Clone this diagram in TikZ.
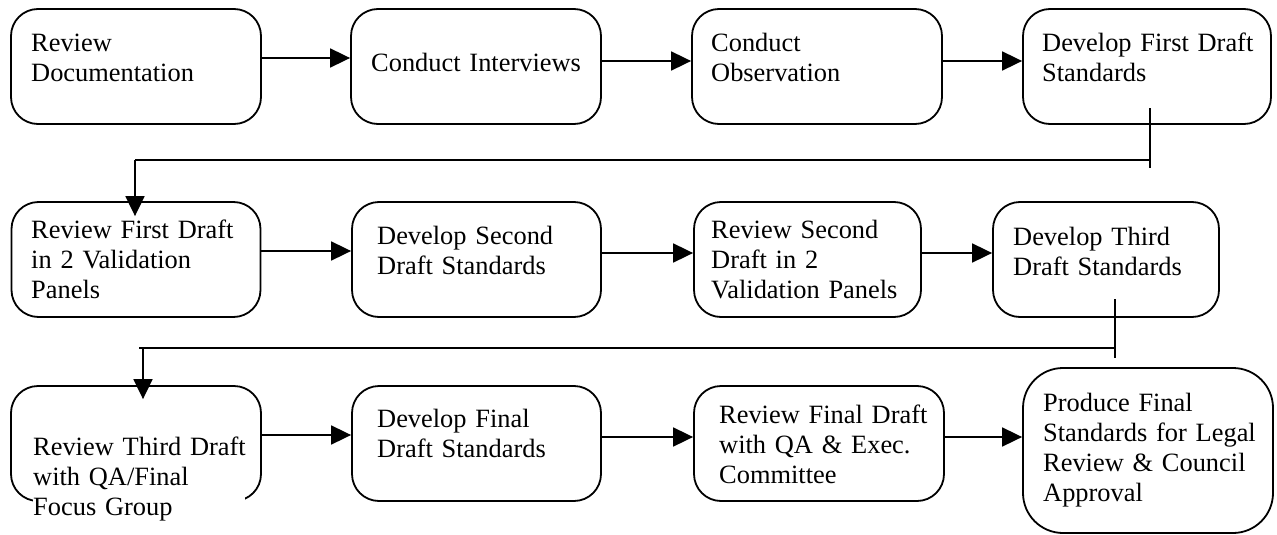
\documentclass[tikz,border=0pt]{standalone}
\usepackage{fontspec}
\setmainfont{Liberation Serif}
\usetikzlibrary{arrows.meta,calc}
\begin{document}
\begin{tikzpicture}[x=1pt,y=-1pt,
  box/.style={draw=black,line width=1.8pt,rounded corners=27pt,rectangle,inner sep=0pt,fill=none},
  txt/.style={anchor=base west,inner sep=0pt,text width=245pt,align=left,font=\fontsize{26.4}{30}\selectfont},
  conn/.style={draw=black,line width=1.8pt},
  arr/.style={conn,-{Triangle[length=20pt,width=19pt]}}]
\useasboundingbox (0,0) rectangle (1277,535);
% row 1
\node[box,minimum width=250pt,minimum height=115pt] (b1) at (136,66.5) {};
\node[box,minimum width=250pt,minimum height=115pt] (b2) at (476,66.5) {};
\node[box,minimum width=250pt,minimum height=115pt] (b3) at (817,66.5) {};
\node[box,minimum width=248pt,minimum height=115pt] (b4) at (1147,66.5) {};
% row 2
\node[box,minimum width=249pt,minimum height=115pt] (b5) at (136,259.5) {};
\node[box,minimum width=249pt,minimum height=115pt] (b6) at (476.5,259.5) {};
\node[box,minimum width=227pt,minimum height=115pt] (b7) at (807.5,259.5) {};
\node[box,minimum width=226pt,minimum height=115pt] (b8) at (1106,259.5) {};
% row 3
\node[box,minimum width=250pt,minimum height=115pt] (b9) at (136,443.5) {};
\node[box,minimum width=249pt,minimum height=115pt] (b10) at (476.5,443.5) {};
\node[box,minimum width=250pt,minimum height=115pt] (b11) at (819,443.5) {};
\node[box,rounded corners=40pt,minimum width=250pt,minimum height=165pt] (b12) at (1148,450.5) {};
% white text area hiding bottom of box 9
\fill[white] (33,492) rectangle (245,535);
% texts
\node[txt] (t1) at (31,52) {Review\\Documentation};
\node[txt] (t2) at (371,72) {Conduct Interviews};
\node[txt] (t3) at (711,52) {Conduct\\Observation};
\node[txt] (t4) at (1042,52) {Develop First Draft\\Standards};
\node[txt] (t5) at (31,238) {Review First Draft\\in 2 Validation\\Panels};
\node[txt] (t6) at (377,244) {Develop Second\\Draft Standards};
\node[txt] (t7) at (711,238) {Review Second\\Draft in 2\\Validation Panels};
\node[txt] (t8) at (1013,245) {Develop Third\\Draft Standards};
\node[txt] (t9) at (33,455) {Review Third Draft\\with QA/Final\\Focus Group};
\node[txt] (t10) at (377,427) {Develop Final\\Draft Standards};
\node[txt] (t11) at (719,423) {Review Final Draft\\with QA \& Exec.\\Committee};
\node[txt] (t12) at (1043,411) {Produce Final\\Standards for Legal\\Review \& Council\\Approval};
% horizontal arrows
\draw[arr] (b1.east|-0,58) -- (b2.west|-0,58);
\draw[arr] (b2.east|-0,61) -- (b3.west|-0,61);
\draw[arr] (b3.east|-0,61) -- (b4.west|-0,61);
\draw[arr] (b5.east|-0,251) -- (b6.west|-0,251);
\draw[arr] (b6.east|-0,253) -- (b7.west|-0,253);
\draw[arr] (b7.east|-0,253) -- (b8.west|-0,253);
\draw[arr] (b9.east|-0,435) -- (b10.west|-0,435);
\draw[arr] (b10.east|-0,437) -- (b11.west|-0,437);
\draw[arr] (b11.east|-0,437) -- (b12.west|-0,437);
% row transitions
\coordinate (k1) at (1150,108);
\coordinate (k2) at (1150,168);
\coordinate (k3) at (135,160);
\draw[conn] (k1) -- (k2);
\draw[conn] (k2|-k3) -- (k3);
\draw[arr,shorten >=-15pt] (k3) -- (k3|-b5.north);
\coordinate (m1) at (1115,299);
\coordinate (m2) at (1115,358);
\coordinate (m3) at (139,348);
\coordinate (m4) at (143,348);
\draw[conn] (m1) -- (m2);
\draw[conn] (m2|-m3) -- (m3);
\draw[arr,shorten >=-14pt] (m4) -- (m4|-b9.north);
\end{tikzpicture}
\end{document}
